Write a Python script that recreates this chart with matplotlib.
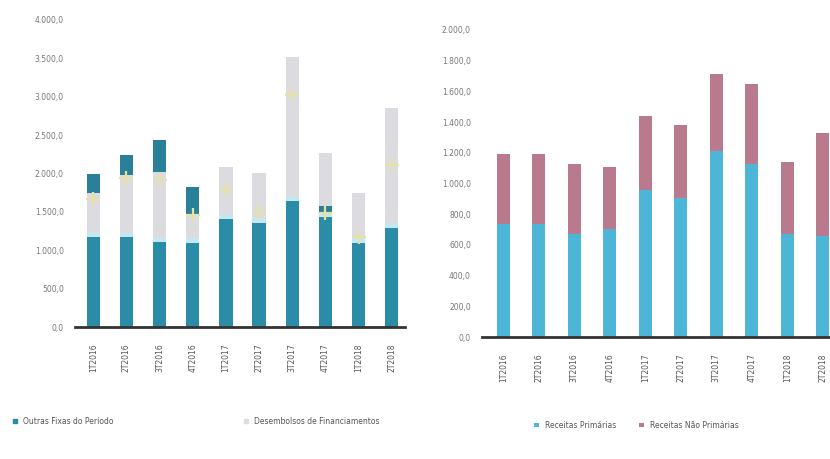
import matplotlib.pyplot as plt
import numpy as np

quarters = ['1T2016', '2T2016', '3T2016', '4T2016', '1T2017',
            '2T2017', '3T2017', '4T2017', '1T2018', '2T2018']

# left chart (R$ milhões)
base = [1170, 1170, 1105, 1095, 1405, 1355, 1640, 1435, 1095, 1290]
strip = [60, 60, 60, 60, 60, 60, 60, 65, 60, 60]
low_block = [0, 0, 0, 0, 0, 0, 0, 80, 0, 0]
grey = [515, 750, 850, 305, 620, 590, 1820, 690, 590, 1505]
top_block = [250, 260, 420, 365, 0, 0, 0, 0, 0, 0]
marks = [1668, 1941, 1915, 1459, 1785, 1498, 3023, 1485, 1173, 2111]

# right chart
prim = [736, 736, 671, 704, 958, 906, 1212, 1127, 671, 658]
nao_prim = [456, 456, 456, 403, 482, 475, 501, 521, 469, 671]


def br(v, pos=None):
    s = f'{v:,.1f}'
    return s.replace(',', 'X').replace('.', ',').replace('X', '.')


fig = plt.figure(figsize=(8.3, 4.59), dpi=100)
ax1 = fig.add_axes([75 / 830, 1 - 327 / 459, 330 / 830, 307 / 459])
ax2 = fig.add_axes([482 / 830, 1 - 337 / 459, 348 / 830, 307 / 459])

x = np.arange(len(quarters))
w1 = 0.4
bottom = np.zeros(len(x))
for vals, col in [(base, '#2b8ca8'), (strip, '#c4e8f2'), (low_block, '#2a7f99'),
                  (grey, '#dcdbe0'), (top_block, '#2a7f99')]:
    ax1.bar(x, vals, w1, bottom=bottom, color=col, edgecolor='none')
    bottom += np.array(vals)
ax1.scatter(x, marks, marker='+', s=90, color='#e6e2a6', linewidths=1.6, zorder=3)

ax1.set_ylim(0, 4000)
ax1.set_xlim(-0.55, 9.4)
ax1.set_yticks(np.arange(0, 4001, 500))

w2 = 0.37
ax2.bar(x, prim, w2, color='#4db6d6', label='Receitas Primárias')
ax2.bar(x, nao_prim, w2, bottom=prim, color='#b87a8c', label='Receitas Não Primárias')
ax2.set_ylim(0, 2000)
ax2.set_xlim(-0.6, 9.2)
ax2.set_yticks(np.arange(0, 2001, 200))

for ax in (ax1, ax2):
    ax.yaxis.set_major_formatter(plt.FuncFormatter(br))
    ax.set_xticks(x)
    ax.set_xticklabels(quarters, rotation=90, fontsize=5.5, color='#555555')
    ax.tick_params(axis='y', length=0, labelsize=5.5, labelcolor='#777777', pad=8)
    ax.tick_params(axis='x', length=0, pad=12)
    for s in ['top', 'right', 'left']:
        ax.spines[s].set_visible(False)
    ax.spines['bottom'].set_color('#333333')
    ax.spines['bottom'].set_linewidth(2)

h1 = plt.Rectangle((0, 0), 1, 1, color='#2b8ca8')
h2 = plt.Rectangle((0, 0), 1, 1, color='#dcdbe0')
ax1.legend([h1, h2], ['Outras Fixas do Período', 'Desembolsos de Financiamentos'],
           loc='upper left', bbox_to_anchor=(-0.21, -0.27), ncol=2, frameon=False,
           fontsize=5.5, handlelength=0.6, handleheight=0.6, columnspacing=17,
           labelcolor='#555555')
ax2.legend(loc='upper left', bbox_to_anchor=(0.13, -0.25), ncol=2, frameon=False,
           fontsize=5.5, handlelength=0.6, handleheight=0.6, columnspacing=3,
           labelcolor='#555555')

fig.savefig('out.png', dpi=100)
